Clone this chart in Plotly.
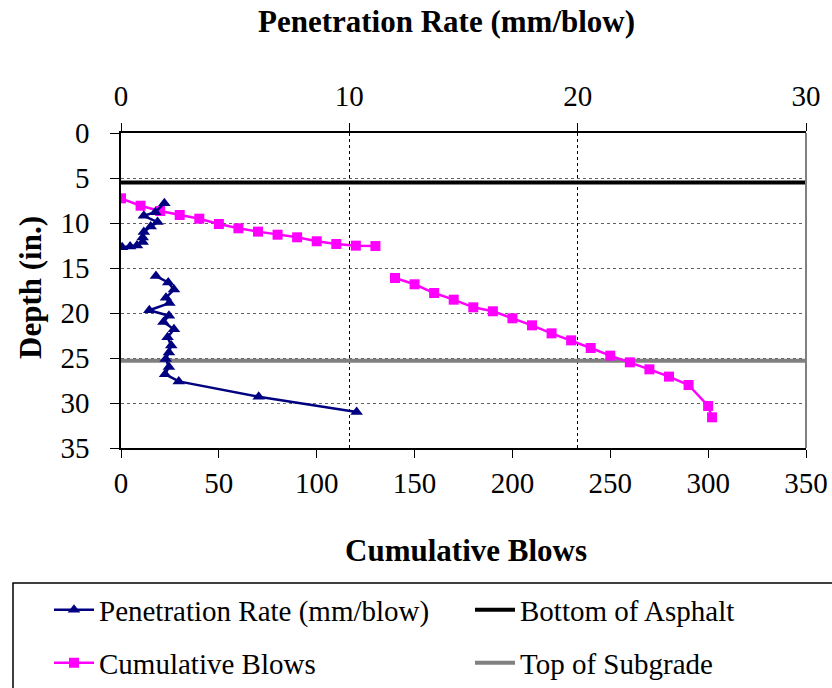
import plotly.graph_objects as go

# Dynamic cone penetrometer log: depth vs penetration rate and cumulative blows

# Penetration rate (mm/blow) against depth (in.); None separates the two test runs
pen_rate = [1.9, 1.5, 1.0, 1.6, 1.3, 1.0, 0.95, 0.95, 0.7, 0.4, 0.05,
            None,
            1.53, 2.07, 2.32, 1.97, 2.12, 1.24, 2.10, 1.86, 2.32, 2.04,
            2.20, 2.10, 1.96, 2.10, 1.93, 2.53, 6.03, 10.32]
pen_depth = [7.8, 8.8, 9.2, 9.9, 10.4, 11.0, 11.6, 12.1, 12.5, 12.6, 12.7,
             None,
             15.9, 16.6, 17.4, 18.3, 18.9, 19.7, 20.3, 21.0, 21.8, 22.7,
             23.6, 24.4, 25.1, 26.0, 26.8, 27.6, 29.3, 31.0]

# Cumulative blows against depth (in.)
blows = [0, 10, 20, 30, 40, 50, 60, 70, 80, 90, 100, 110, 120, 130,
         None,
         140, 150, 160, 170, 180, 190, 200, 210, 220, 230, 240, 250, 260,
         270, 280, 290, 300, 302]
blows_depth = [7.26, 8.08, 8.67, 9.11, 9.52, 10.11, 10.59, 10.96, 11.30,
               11.59, 12.03, 12.33, 12.52, 12.56,
               None,
               16.11, 16.81, 17.78, 18.52, 19.37, 19.81, 20.59, 21.37, 22.26,
               23.04, 23.89, 24.74, 25.48, 26.26, 27.07, 28.0, 30.33, 31.59]

# Layer boundaries (in.)
asphalt_bottom = 5.5
subgrade_top = 25.3
blows_span = [0, 350]

FONT = "Liberation Serif, Times New Roman, serif"
W, H = 832, 688
L, R, T, B = 121, 26, 133, 240
PW, PH = W - L - R, H - T - B


def px_x(p):
    return (p - L) / PW


def px_y(p):
    return (H - B - p) / PH


fig = go.Figure()

fig.add_trace(go.Scatter(
    x=blows_span, y=[asphalt_bottom] * 2, mode="lines",
    name="Bottom of Asphalt", line=dict(color="#000000", width=4),
    xaxis="x", yaxis="y", legend="legend2",
))
fig.add_trace(go.Scatter(
    x=blows_span, y=[subgrade_top] * 2, mode="lines",
    name="Top of Subgrade", line=dict(color="#808080", width=4),
    xaxis="x", yaxis="y", legend="legend4",
))
fig.add_trace(go.Scatter(
    x=blows, y=blows_depth, mode="lines+markers",
    name="Cumulative Blows",
    line=dict(color="#FF00FF", width=2.5),
    marker=dict(symbol="square", size=10, color="#FF00FF"),
    xaxis="x", yaxis="y", legend="legend3",
))
fig.add_trace(go.Scatter(
    x=pen_rate, y=pen_depth, mode="lines+markers",
    name="Penetration Rate (mm/blow)",
    line=dict(color="#000080", width=2.5),
    marker=dict(symbol="triangle-up", size=11, color="#000080"),
    xaxis="x2", yaxis="y", legend="legend",
))

tick_font = dict(family=FONT, size=29, color="#000000")
legend_common = dict(
    orientation="h", xanchor="left", yanchor="middle",
    font=dict(family=FONT, size=29, color="#000000"),
    bgcolor="rgba(0,0,0,0)", borderwidth=0,
    itemwidth=40,
)
col1_x, col2_x = px_x(49), px_x(470)
row1_y, row2_y = px_y(610), px_y(663)

fig.update_layout(
    width=W, height=H,
    margin=dict(l=L, r=R, t=T, b=B, autoexpand=False),
    paper_bgcolor="white", plot_bgcolor="white",
    showlegend=True,
    xaxis=dict(
        range=[0, 350], dtick=50, tick0=0, showgrid=False, zeroline=False,
        showline=True, linecolor="#000000", linewidth=1.5,
        ticks="outside", ticklen=8, tickcolor="#000000",
        tickfont=tick_font, ticklabelstandoff=0,
    ),
    xaxis2=dict(
        range=[0, 30], dtick=10, tick0=0, overlaying="x", side="top",
        showgrid=True, gridcolor="#000000", griddash="dot", gridwidth=1,
        zeroline=False, showline=True, linecolor="#000000", linewidth=1.5,
        ticks="outside", ticklen=8, tickcolor="#000000",
        tickfont=tick_font, ticklabelstandoff=6,
    ),
    yaxis=dict(
        range=[35, 0], dtick=5, tick0=0,
        showgrid=True, gridcolor="#606060", griddash="dot", gridwidth=1,
        zeroline=False, showline=True, linecolor="#000000", linewidth=1.5,
        ticks="outside", ticklen=9, tickcolor="#000000",
        tickfont=tick_font, ticklabelstandoff=15,
    ),
    legend=dict(x=col1_x, y=row1_y, **legend_common),
    legend2=dict(x=col2_x, y=row1_y, **legend_common),
    legend3=dict(x=col1_x, y=row2_y, **legend_common),
    legend4=dict(x=col2_x, y=row2_y, **legend_common),
    shapes=[
        # right-hand plot-area border
        dict(type="line", xref="paper", yref="paper", x0=1, x1=1, y0=0, y1=1,
             line=dict(color="#808080", width=2)),
        # legend frame
        dict(type="rect", xref="paper", yref="paper",
             x0=px_x(13), x1=px_x(840), y0=px_y(583), y1=px_y(700),
             line=dict(color="#000000", width=1.5)),
    ],
    annotations=[
        dict(text="<b>Penetration Rate (mm/blow)</b>", xref="paper",
             yref="paper", x=px_x(446), y=px_y(22), showarrow=False,
             xanchor="center", yanchor="middle",
             font=dict(family=FONT, size=31, color="#000000")),
        dict(text="<b>Cumulative Blows</b>", xref="paper", yref="paper",
             x=px_x(466), y=px_y(550), showarrow=False,
             xanchor="center", yanchor="middle",
             font=dict(family=FONT, size=31, color="#000000")),
        dict(text="<b>Depth (in.)</b>", xref="paper", yref="paper",
             x=px_x(30), y=px_y(288), showarrow=False, textangle=-90,
             xanchor="center", yanchor="middle",
             font=dict(family=FONT, size=31, color="#000000")),
    ],
)

fig.write_html("out.html")
